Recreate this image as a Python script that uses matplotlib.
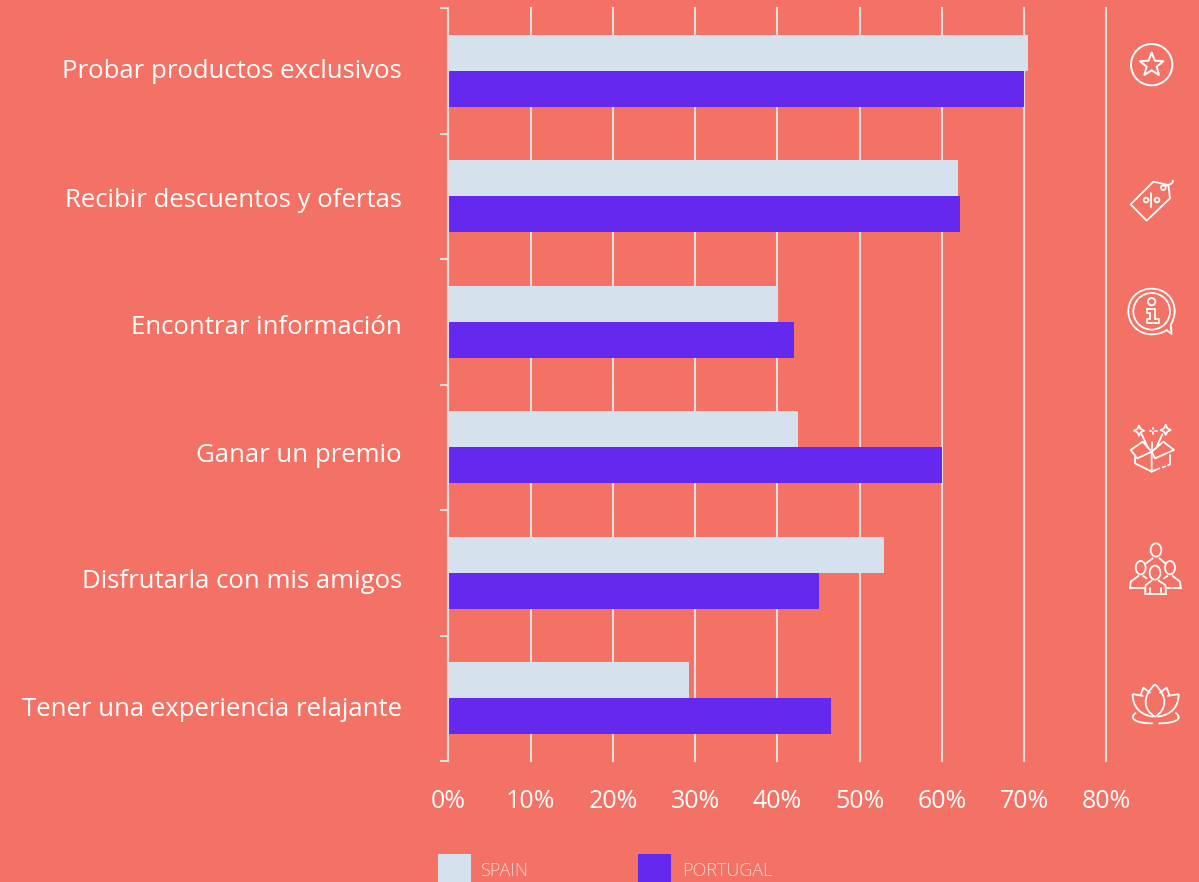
import numpy as np
import matplotlib
matplotlib.use("Agg")
import matplotlib.pyplot as plt
from matplotlib.path import Path
from matplotlib.patches import PathPatch, Circle, Ellipse, Rectangle
from matplotlib.ticker import FuncFormatter

# Survey data (share of respondents, %)
categories = ["Probar productos exclusivos", "Recibir descuentos y ofertas",
              "Encontrar información", "Ganar un premio",
              "Disfrutarla con mis amigos", "Tener una experiencia relajante"]
spain = [70.5, 62, 40.1, 42.5, 53, 29.3]
portugal = [70, 62.2, 42, 60, 45, 46.5]
x_ticks = [0, 10, 20, 30, 40, 50, 60, 70, 80]
series_names = ["SPAIN", "PORTUGAL"]

BG = "#F47265"
C_SPAIN = "#D5E1ED"
C_PORTUGAL = "#6528EE"
GRID = "#DEDEDE"
FONT = "Open Sans"

W, H = 1199, 882
fig = plt.figure(figsize=(W / 100, H / 100), dpi=100, facecolor=BG)
ax = fig.add_axes([448.5 / W, 1 - 761 / H, (1106 - 448) / W, (761 - 8) / H], facecolor=BG)

y = np.arange(len(categories))
bar_h = 36 / 125.5
ax.barh(y - bar_h / 2, spain, bar_h, color=C_SPAIN, zorder=3)
ax.barh(y + bar_h / 2, portugal, bar_h, color=C_PORTUGAL, zorder=3)

ax.set_xlim(0, 80)
ax.set_ylim(len(categories) - 0.5, -0.5)
ax.set_xticks(x_ticks)
ax.xaxis.set_major_formatter(FuncFormatter(lambda v, _: f"{v:.0f}%"))
ax.grid(axis="x", color=GRID, lw=1.5, zorder=1, clip_on=False)
ax.tick_params(axis="x", length=0, pad=20, labelsize=18, labelcolor="white")
for lab in ax.get_xticklabels():
    lab.set_family(FONT)

# Tick marks sit on the band edges, category names on the band centres
ax.set_yticks(np.arange(len(categories) + 1) - 0.5)
ax.set_yticklabels([])
ax.tick_params(axis="y", length=6, width=1.5, color=GRID, direction="out")
for s in ("top", "right", "bottom"):
    ax.spines[s].set_visible(False)
ax.spines["left"].set_color(GRID)
ax.spines["left"].set_linewidth(1.5)
ax.spines["left"].set_zorder(4)

label_nudge = [1, 4, 6, 8, 9, 11]
for i, name in enumerate(categories):
    ax.annotate(name, (0, i), xytext=(-33.5, -label_nudge[i] * 0.72), textcoords="offset points",
                ha="right", va="center", color="white", fontsize=18.5, family=FONT)

# Pixel-space overlay for the legend and the pictograms
ov = fig.add_axes([0, 0, 1, 1], facecolor="none")
ov.set_xlim(0, W)
ov.set_ylim(H, 0)
ov.axis("off")

ov.add_patch(Rectangle((438, 854), 33, 30, color=C_SPAIN, lw=0))
ov.add_patch(Rectangle((638, 854), 33, 30, color=C_PORTUGAL, lw=0))
for tx, name in zip((480, 682), series_names):
    ov.text(tx, 871, name, color="#FBD3CE", fontsize=13, family="Open Sans",
            fontweight="light", ha="left", va="center")

LW = 1.3


def line(pts, off, **kw):
    p = np.array(pts, float) / 3 + off
    ov.plot(p[:, 0], p[:, 1], color="white", lw=kw.pop("lw", LW),
            solid_capstyle="round", solid_joinstyle="round", **kw)


def curve(start, segs, off, lw=LW):
    """Cubic Bezier outline given in enlarged icon units."""
    verts = [start]
    codes = [Path.MOVETO]
    for s in segs:
        verts += list(s)
        codes += [Path.CURVE4] * 3
    v = np.array(verts, float) / 3 + off
    ov.add_patch(PathPatch(Path(v, codes), fc="none", ec="white", lw=lw))


def circ(cx, cy, r, off, lw=LW):
    c = np.array([cx, cy]) / 3 + off
    ov.add_patch(Circle(c, r / 3, fc="none", ec="white", lw=lw))


def ell(cx, cy, rx, ry, off, lw=LW):
    c = np.array([cx, cy]) / 3 + off
    ov.add_patch(Ellipse(c, 2 * rx / 3, 2 * ry / 3, fc="none", ec="white", lw=lw))


top = np.array([1100, 20])
low = np.array([1100, 400])

# Star badge
circ(155, 134, 62, top, lw=1.4)
ang = np.deg2rad(-90 + 36 * np.arange(11))
rad = np.where(np.arange(11) % 2 == 0, 37, 16)
line(np.c_[155 + rad * np.cos(ang), 135 + rad * np.sin(ang)], top, lw=1.4)

# Discount tag
line([(92, 553), (160, 485), (205, 495), (210, 535), (140, 602), (92, 553)], top)
circ(190, 503, 7, top)
curve((190, 498), [((205, 495), (222, 492), (218, 480))], top)
circ(138, 540, 7, top)
circ(171, 540, 7, top)
line([(154, 518), (154, 562)], top)

# Information bubble
curve((155, 806), [((115, 806), (85, 835), (85, 874)),
                   ((85, 912), (115, 943), (155, 943)),
                   ((172, 943), (190, 938), (200, 930))], top)
line([(200, 930), (215, 942), (212, 915)], top)
curve((212, 915), [((220, 900), (224, 888), (224, 874)),
                   ((224, 835), (195, 806), (155, 806))], top)
circ(155, 874, 55, top)
circ(155, 845, 11, top)
line([(140, 867), (166, 867), (166, 897), (176, 897), (176, 910), (140, 910),
      (140, 897), (150, 897), (150, 878), (140, 878), (140, 867)], top)

# Gift box
line([(105, 165), (105, 190), (155, 215), (155, 155)], low)
line([(155, 215), (178, 205)], low)
line([(188, 202), (196, 199)], low)
line([(204, 196), (210, 193), (210, 165)], low)
line([(92, 150), (128, 125), (155, 155), (190, 125), (222, 150), (165, 175), (155, 155)], low)
line([(155, 155), (112, 175), (92, 150)], low)
for cx, cy, r in ((117, 92, 15), (197, 90, 15)):
    line([(cx, cy - r), (cx + 5, cy - 5), (cx + r, cy), (cx + 5, cy + 5), (cx, cy + r),
          (cx - 5, cy + 5), (cx - r, cy), (cx - 5, cy - 5), (cx, cy - r)], low)
line([(125, 103), (145, 145)], low)
line([(187, 103), (168, 145)], low)
line([(156, 125), (156, 148)], low)
line([(160, 83), (160, 87)], low)
line([(160, 97), (160, 101)], low)
line([(150, 92), (154, 92)], low)
line([(166, 92), (170, 92)], low)

# Group of people
ell(168, 450, 16, 20, low)
ell(122, 503, 15, 20, low)
ell(210, 503, 15, 20, low)
ell(165, 518, 16, 21, low)
line([(138, 490), (158, 475)], low)
line([(178, 475), (196, 490)], low)
line([(90, 565), (92, 545), (115, 528)], low)
line([(130, 528), (140, 535)], low)
line([(242, 565), (240, 545), (218, 528)], low)
line([(202, 528), (192, 535)], low)
line([(90, 565), (135, 565)], low)
line([(198, 565), (242, 565)], low)
line([(135, 582), (137, 555), (155, 542)], low)
line([(198, 582), (196, 555), (176, 542)], low)
line([(135, 582), (198, 582)], low)
line([(150, 565), (150, 582)], low)
line([(184, 565), (184, 582)], low)

# Lotus
curve((165, 853), [((125, 890), (130, 930), (165, 950)),
                   ((200, 930), (205, 890), (165, 853))], low)
line([(122, 885), (130, 863), (150, 878)], low)
line([(208, 885), (200, 863), (180, 878)], low)
curve((98, 882), [((110, 885), (118, 885), (130, 888))], low)
curve((236, 882), [((224, 885), (214, 885), (202, 888))], low)
curve((98, 882), [((98, 920), (120, 945), (160, 950))], low)
curve((236, 882), [((236, 920), (215, 945), (172, 950))], low)
curve((108, 938), [((85, 955), (105, 970), (158, 970))], low)
curve((226, 938), [((250, 955), (230, 970), (176, 970))], low)

fig.savefig("out.png", dpi=100, facecolor=BG)
